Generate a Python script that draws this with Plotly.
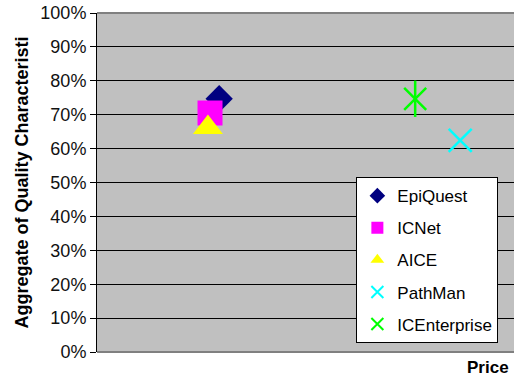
import plotly.graph_objects as go

names = ["EpiQuest", "ICNet", "AICE", "PathMan", "ICEnterprise"]
price = [29.3, 27.1, 26.6, 87.1, 76.3]
quality = [0.747, 0.705, 0.662, 0.624, 0.747]
colors = ["#000080", "#FF00FF", "#FFFF00", "#00FFFF", "#00FF00"]
symbols = ["diamond", "square", "triangle-up", "x-thin-open", "x-thin-open"]
sizes = [21, 25, 26, 23, 22]
y_ticks = [i / 10 for i in range(11)]
y_tick_labels = [f"{i*10}%" for i in range(11)]

fig = go.Figure()
for i, n in enumerate(names):
    lw = 2.5 if "open" in symbols[i] else 0
    fig.add_trace(go.Scatter(
        x=[price[i]], y=[quality[i]], mode="markers", name=n, legendgroup=n,
        marker=dict(symbol=symbols[i], size=sizes[i], color=colors[i],
                    line=dict(width=lw, color=colors[i])),
    ))
# vertical stroke of the ICEnterprise star
fig.add_trace(go.Scatter(
    x=[price[4]], y=[quality[4]], mode="markers", showlegend=False,
    legendgroup=names[4],
    marker=dict(symbol="line-ns-open", size=26, color=colors[4],
                line=dict(width=2.5, color=colors[4])),
))

fig.update_layout(
    width=514, height=376,
    margin=dict(l=97, r=0, t=13, b=24),
    paper_bgcolor="white", plot_bgcolor="#C0C0C0",
    font=dict(family="Liberation Sans, Arial, sans-serif", size=17, color="black"),
    xaxis=dict(range=[0, 100], showticklabels=False, showgrid=False,
               zeroline=False, ticks=""),
    yaxis=dict(range=[0, 1], tickvals=y_ticks, ticktext=y_tick_labels,
               showgrid=True, gridcolor="black", gridwidth=1, zeroline=False,
               showline=True, linecolor="black", linewidth=1,
               ticks="outside", ticklen=6, tickcolor="black",
               tickfont=dict(size=18, color="#111"),
               title=dict(text="<b>Aggregate of Quality Characteristi</b>",
                          font=dict(size=18, color="black"), standoff=7)),
    legend=dict(x=0.622, y=0.516, xanchor="left", yanchor="top",
                bgcolor="white", bordercolor="black", borderwidth=1,
                font=dict(size=17, color="black"), tracegroupgap=7,
                itemsizing="constant"),
    showlegend=True,
    shapes=[
        dict(type="line", xref="paper", yref="paper", x0=0, x1=1, y0=1, y1=1,
             line=dict(color="#808080", width=2)),
        dict(type="line", xref="paper", yref="paper", x0=0, x1=1, y0=0, y1=0,
             line=dict(color="#808080", width=2)),
    ],
    annotations=[dict(text="<b>Price</b>", xref="paper", yref="paper",
                      x=1, y=0, xanchor="right", yanchor="top", yshift=-4,
                      xshift=-3, showarrow=False,
                      font=dict(size=17, color="black"))],
)
fig.write_html("out.html")
